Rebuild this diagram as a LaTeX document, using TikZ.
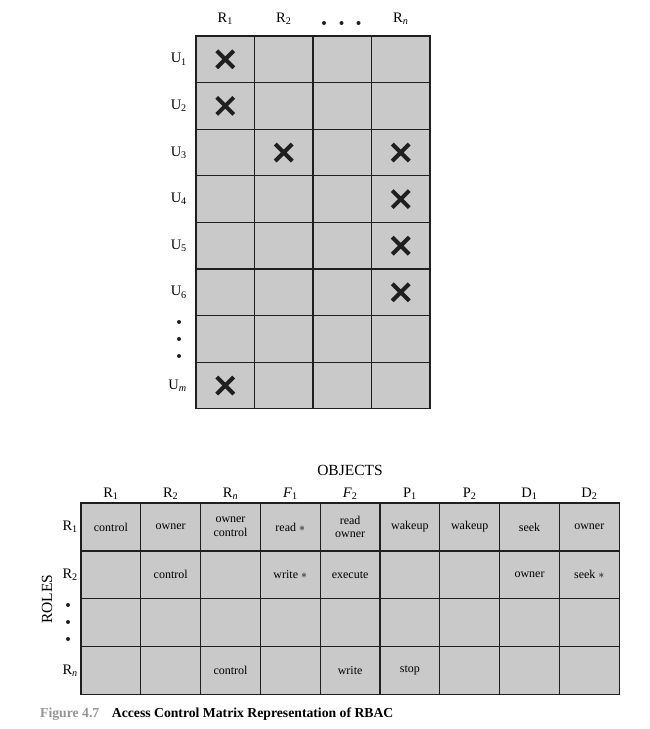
\documentclass[tikz,border=0pt]{standalone}
\usepackage{fontspec}
\setmainfont{Liberation Serif}
\usetikzlibrary{shapes.misc}
\newcommand{\subs}[2]{#1\textsubscript{#2}}

\begin{document}
\begin{tikzpicture}[x=1pt,y=-1pt,
    ucell/.style={rectangle,draw=black!88,fill=black!21,line width=1.2pt,
      outer sep=0pt,inner sep=0pt,minimum width=58.5pt,minimum height=46.6pt},
    rcell/.style={ucell,minimum width=59.8pt,minimum height=47.9pt},
    entry/.style={align=center,inner sep=0pt,font=\fontsize{12}{13.5}\selectfont},
    head/.style={inner sep=0pt,font=\fontsize{14.5}{17}\selectfont},
    title/.style={inner sep=0pt,font=\fontsize{15.5}{18}\selectfont},
    xmark/.style={cross out,draw=black!88,line width=4pt,minimum size=13pt,inner sep=0pt},
    dot/.style={circle,fill=black!88,minimum size=4pt,inner sep=0pt}]

\useasboundingbox (0,0) rectangle (649,729);

% Users x roles
\foreach \r in {1,...,8}
  \foreach \c in {1,...,4}
    \node[ucell] (u\r-\c) at ({196+58.5*(\c-0.5)},{36+46.6*(\r-0.5)}) {};

\foreach \c/\t in {1/{\subs{R}{1}},2/{\subs{R}{2}},4/{\subs{R}{\textit{n}}}}
  \node[head,anchor=base] (uh\c) at ({196+58.5*(\c-0.5)},22) {\t};
\node[dot] (hd1) at (324,23) {};
\node[dot] (hd2) at (341.5,23) {};
\node[dot] (hd3) at (358.5,23) {};

\foreach \r/\t in {1/{\subs{U}{1}},2/{\subs{U}{2}},3/{\subs{U}{3}},4/{\subs{U}{4}},
    5/{\subs{U}{5}},6/{\subs{U}{6}},8/{\subs{U}{\textit{m}}}}
  \node[head,anchor=east] (ul\r) at (187,{36+46.6*(\r-0.5)}) {\t};
\node[dot] (vd1) at (179,322) {};
\node[dot] (vd2) at (179,339) {};
\node[dot] (vd3) at (179,356) {};

\foreach \r/\c in {1/1,2/1,3/2,3/4,4/4,5/4,6/4,8/1}
  \node[xmark] (x\r-\c) at (u\r-\c) {};

% Access control matrix
\foreach \r in {1,...,4}
  \foreach \c in {1,...,9}
    \node[rcell] (p\r-\c) at ({81+59.8*(\c-0.5)},{503+47.9*(\r-0.5)}) {};

\node[title,anchor=base] (objects) at (350,475) {OBJECTS};
\node[title,rotate=90] (roles) at (47,599) {ROLES};

\foreach \c/\t in {1/{\subs{R}{1}},2/{\subs{R}{2}},3/{\subs{R}{\textit{n}}},
    4/{\subs{\textit{F}}{1}},5/{\subs{\textit{F}}{2}},6/{\subs{P}{1}},
    7/{\subs{P}{2}},8/{\subs{D}{1}},9/{\subs{D}{2}}}
  \node[head,anchor=base] (ph\c) at ({81+59.8*(\c-0.5)},497) {\t};

\foreach \r/\t in {1/{\subs{R}{1}},2/{\subs{R}{2}},4/{\subs{R}{\textit{n}}}}
  \node[head,anchor=east] (pl\r) at (78,{503+47.9*(\r-0.5)}) {\t};
\node[dot] (rd1) at (68,605) {};
\node[dot] (rd2) at (68,622) {};
\node[dot] (rd3) at (68,639) {};

\node[entry] (e1-1) at (p1-1) {control};
\node[entry] (e1-2) at (p1-2) {owner};
\node[entry] (e1-3) at (p1-3) {owner\\control};
\node[entry] (e1-4) at (p1-4) {read $\ast$};
\node[entry] (e1-5) at (p1-5) {read\\owner};
\node[entry] (e1-6) at (p1-6) {wakeup};
\node[entry] (e1-7) at (p1-7) {wakeup};
\node[entry] (e1-8) at (p1-8) {seek};
\node[entry] (e1-9) at (p1-9) {owner};
\node[entry] (e2-2) at (p2-2) {control};
\node[entry] (e2-4) at (p2-4) {write $\ast$};
\node[entry] (e2-5) at (p2-5) {execute};
\node[entry] (e2-8) at (p2-8) {owner};
\node[entry] (e2-9) at (p2-9) {seek $\ast$};
\node[entry] (e4-3) at (p4-3) {control};
\node[entry] (e4-5) at (p4-5) {write};
\node[entry] (e4-6) at (p4-6) {stop};

% Caption
\node[anchor=base west,inner sep=0pt,text=black!42,font=\bfseries\fontsize{13.7}{16}\selectfont]
  (fignum) at (40,717) {Figure 4.7};
\node[anchor=base west,inner sep=0pt,font=\bfseries\fontsize{13.7}{16}\selectfont]
  (caption) at (111.7,717) {Access Control Matrix Representation of RBAC};

\end{tikzpicture}
\end{document}
